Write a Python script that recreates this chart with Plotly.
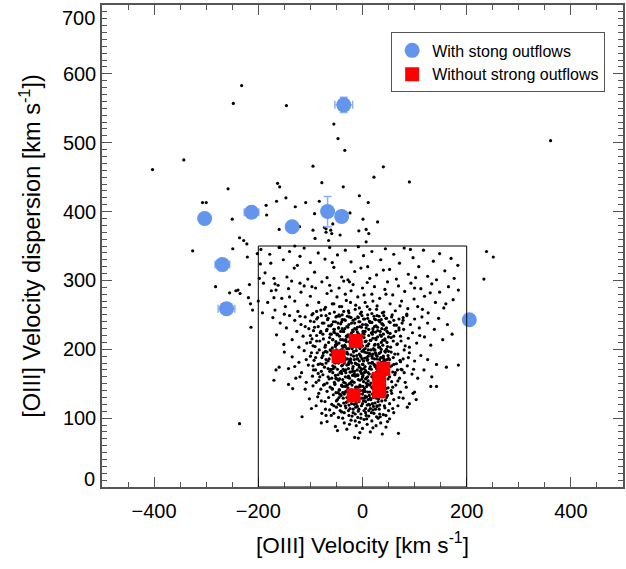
import plotly.graph_objects as go

# ---------------- data ----------------
# Parent sample (small black dots), read by eye: outside the box
outer_pts = [(-232,583),(-248,557),(-146,554),(-55,527),(-47,506),(-34,489),(-343,475),(-403,461),
             (-95,466),(22,450),(40,465),(90,443),(-163,441),(-159,436),(-78,442),(-37,436),(-258,433),
             (-6,423),(-147,420),(-165,415),(11,413),(-109,413),(-83,415),(-307,413),(-300,413),
             (-185,409),(-129,407),(-184,395),(-92,397),(-24,398),(29,385),(-250,389),(1,389),
             (-160,374),(-121,378),(-95,373),(-73,377),(-70,375),(-61,373),(-57,382),(-70,370),
             (-59,368),(-43,366),(-7,372),(7,374),(12,368),(-91,361),(-236,362),(-228,358),
             (-222,353),(-65,358),(7,356),(-326,343),(-249,346),(-130,350),(-159,348),(-202,339),
             (-221,334),(-217,294),(-282,291),(-255,282),(-243,285),(-239,286),(-235,281),
             (-219,275),(-215,266),(-211,257),(-214,232),(-236,92),(238,342),(251,334),(233,302),
             (361,503)]

band_a = [(-195,345),(-178,338),(-160,348),(-152,330),(-140,342),(-131,318),(-120,335),(-112,347),
          (-100,326),(-92,312),(-85,340),(-72,331),(-63,348),(-55,319),(-48,337),(-40,305),(-33,344),
          (-22,327),(-15,313),(-8,349),(2,336),(10,320),(18,342),(27,308),(35,330),(44,346),(52,316),
          (60,338),(71,325),(80,347),(88,309),(97,333),(108,320),(117,344),(125,306),(136,328),
          (148,339),(158,314),(170,332),(183,322),(-187,311),(-170,303),(-145,305),(-105,302),
          (-68,304),(-28,301),(14,303),(65,302),(102,304),(142,301),(176,303),(-125,322),(-3,318),
          (40,315),(92,345),(-58,326),(-176,325),(-196,324),(-168,295),(-166,286),(-192,253),
          (-198,303),(-200,270)]

band_b = [(-190,296),(-182,268),(-175,285),(-168,257),(-162,293),(-155,274),(-148,262),(-142,288),
          (-136,299),(-130,270),(-124,255),(-118,283),(-112,292),(-106,264),(-100,277),(-95,252),
          (-90,289),(-84,268),(-78,298),(-73,258),(-68,281),(-63,293),(-58,266),(-54,254),(-49,276),
          (-45,289),(-40,262),(-36,299),(-31,271),(-27,256),(-22,285),(-18,294),(-13,264),(-9,276),
          (-4,252),(0,289),(5,268),(9,297),(14,258),(18,280),(23,291),(28,263),(33,274),(38,253),
          (43,287),(48,298),(53,266),(58,279),(63,256),(69,292),(75,270),(81,284),(87,259),(93,296),
          (99,273),(106,262),(112,288),(119,277),(126,253),(133,295),(140,268),(148,283),(156,260),
          (165,291),(174,272),(184,286),(-150,251),(-120,296),(-88,255),(-60,285),(-33,280),(-6,260),
          (20,270),(45,280),(72,263),(100,289),(130,282),(160,266),(-170,275),(-25,298),(85,251),
          (-140,276),(3,279),(-97,291),(115,258)]

band_c = [(-172,246),(-165,221),(-158,238),(-151,207),(-146,231),(-140,249),(-135,214),(-130,242),
          (-126,226),(-122,203),(-118,236),(-114,219),(-110,247),(-107,209),(-103,230),(-100,241),
          (-97,215),(-94,227),(-91,204),(-88,244),(-85,233),(-82,212),(-79,249),(-76,222),(-74,238),
          (-71,206),(-68,229),(-66,245),(-63,217),(-61,234),(-58,202),(-56,240),(-53,224),(-51,211),
          (-49,248),(-46,231),(-44,219),(-42,237),(-39,205),(-37,226),(-35,243),(-32,214),(-30,233),
          (-28,221),(-25,247),(-23,208),(-21,238),(-19,228),(-16,216),(-14,244),(-12,203),(-10,232),
          (-7,222),(-5,240),(-3,211),(-1,249),(1,226),(3,217),(6,236),(8,205),(10,245),(12,229),
          (15,213),(17,239),(19,222),(22,248),(24,207),(26,234),(29,218),(31,242),(34,226),(36,210),
          (38,237),(41,249),(43,215),(46,231),(48,204),(51,240),(53,223),(56,247),(59,212),(61,235),
          (64,226),(67,208),(70,244),(73,219),(76,238),(79,229),(82,205),(85,249),(88,216),(92,236),
          (96,224),(100,244),(104,209),(109,231),(114,247),(119,218),(125,238),(131,206),(138,229),
          (146,245),(154,214),(163,236),(172,222),(-60,222),(-40,240),(-20,218),(0,236),(20,230),
          (40,222),(60,242),(-80,226),(-100,210),(-50,208),(-8,246),(33,203),(-70,249),(-30,201),
          (5,201),(45,245),(-88,220),(-15,230),(25,243),(70,231),(-120,248),(-2,219),(55,217),
          (-45,250),(14,240),(-65,234),(90,203),(-110,233),(110,220),(-35,213),(78,246),(-55,229),
          (37,230)]

band_d = [(-150,196),(-142,172),(-135,189),(-128,158),(-122,181),(-117,166),(-112,198),(-108,152),
          (-104,177),(-100,190),(-96,161),(-93,184),(-90,170),(-87,195),(-84,155),(-81,179),(-78,188),
          (-76,163),(-73,174),(-71,197),(-68,151),(-66,183),(-63,168),(-61,192),(-59,158),(-57,176),
          (-55,186),(-52,162),(-50,199),(-48,171),(-46,155),(-44,182),(-42,193),(-40,165),(-38,177),
          (-36,152),(-34,188),(-32,170),(-30,196),(-28,159),(-26,181),(-24,167),(-22,192),(-20,154),
          (-18,175),(-16,185),(-14,161),(-12,198),(-10,170),(-8,156),(-6,183),(-4,191),(-2,165),
          (0,178),(2,153),(4,187),(6,169),(8,195),(10,160),(12,180),(14,172),(16,151),(18,190),
          (20,164),(22,199),(24,177),(26,157),(28,186),(30,168),(32,194),(34,155),(36,181),(38,173),
          (40,190),(42,159),(44,184),(47,166),(50,197),(53,175),(56,153),(59,188),(62,163),(65,179),
          (68,193),(71,158),(74,171),(78,186),(82,152),(86,176),(90,195),(95,164),(100,183),
          (106,158),(112,191),(118,170),(125,185),(133,160),(142,178),(-130,175),(-70,185),(-47,189),
          (-33,160),(-17,196),(-3,172),(9,184),(21,156),(33,166),(46,176),(58,167),(-85,165),
          (-57,166),(-27,172),(-13,179),(1,162),(15,193),(29,176),(43,197),(-95,176),(-64,157),
          (-39,199),(-23,183),(-9,163),(5,175),(19,181),(35,188),(52,185),(67,170),(-75,195),
          (-52,180),(-37,171),(-5,155),(11,190),(27,167),(-108,185),(-82,160),(-44,157),(-29,186),
          (-15,168),(-1,197),(13,164),(25,195),(40,160),(60,178),(80,166),(-62,199),(-19,162),
          (7,158),(31,180),(-89,152),(-49,193),(-35,180),(-11,186),(3,166),(17,171),(37,154),
          (55,196),(73,182),(98,171),(-120,160),(-77,178),(-54,152),(-41,187),(-7,177),(23,186),
          (49,157),(88,188),(-25,150),(-66,172),(-170,155),(-166,170),(-160,174),(161,174),
          (184,177)]

band_e = [(-110,142),(-102,128),(-95,147),(-89,118),(-84,136),(-79,125),(-75,148),(-71,113),
          (-68,139),(-65,130),(-62,145),(-59,120),(-56,134),(-53,149),(-50,116),(-48,127),(-45,141),
          (-43,111),(-41,133),(-38,146),(-36,122),(-34,138),(-32,115),(-30,130),(-28,144),(-26,119),
          (-24,136),(-22,126),(-20,148),(-18,113),(-16,132),(-14,141),(-12,121),(-10,137),(-8,110),
          (-6,128),(-4,146),(-2,118),(0,135),(2,125),(4,143),(6,114),(8,131),(10,149),(12,120),
          (14,138),(16,127),(18,145),(20,112),(22,133),(24,122),(26,140),(28,117),(31,134),(34,147),
          (37,125),(40,139),(43,115),(46,130),(49,144),(52,121),(56,136),(60,127),(64,148),(68,118),
          (73,138),(78,129),(84,145),(90,121),(97,136),(-98,114),(-86,131),(-72,124),(-58,142),
          (-46,120),(-37,129),(-27,111),(-17,139),(-7,124),(3,111),(13,133),(23,147),(33,119),
          (44,126),(55,140),(-63,112),(-40,148),(-25,132),(-11,145),(-1,129),(9,119),(19,135),
          (29,143),(41,133),(58,114),(-80,142),(-51,137),(-31,123),(-13,116),(5,139),(15,114),
          (36,140),(50,111),(70,130),(-21,121),(-5,140),(11,127),(27,129),(-44,135),(-33,146),
          (1,146),(-15,125),(21,117),(-134,143),(-142,149),(142,146),(131,146),(100,138),(86,116),
          (103,127)]

band_f = [(-78,107),(-68,95),(-60,104),(-52,88),(-46,101),(-40,109),(-35,93),(-30,84),(-26,104),
          (-22,97),(-18,108),(-15,72),(-12,89),(-9,101),(-6,94),(-3,106),(0,85),(3,98),(6,108),
          (9,91),(12,103),(15,80),(18,96),(22,107),(26,89),(30,100),(35,93),(40,105),(45,87),
          (52,99),(60,108),(-55,107),(-25,91),(-5,79),(8,99),(20,86),(33,106),(-38,100),(-14,96),
          (27,102),(38,77),(-48,82),(48,95),(-70,104),(-8,71),(69,78),(-116,102),(-79,93)]

# dense core of the distribution
core_outer = [(-95,205),(-92,232),(-90,188),(-88,212),(-86,246),(-85,178),(-83,199),(-81,224),
          (-80,257),(-79,168),(-77,238),(-76,191),(-75,215),(-73,149),(-72,203),(-71,261),(-70,180),
          (-69,227),(-68,196),(-67,243),(-66,160),(-65,210),(-64,186),(-63,252),(-62,222),(-61,171),
          (-60,198),(-59,236),(-58,143),(-57,214),(-56,189),(-55,266),(-54,229),(-53,174),(-52,206),
          (-51,247),(-50,157),(-49,221),(-48,194),(-47,238),(-46,180),(-45,209),(-44,262),(-43,166),
          (-42,226),(-41,199),(-40,147),(-39,243),(-38,214),(-37,185),(-36,255),(-35,169),(-34,230),
          (-33,204),(-32,138),(-31,219),(-30,177),(-29,248),(-28,193),(-27,161),(-26,236),(-25,211),
          (-24,184),(-23,268),(-22,152),(-21,224),(-20,201),(-19,172),(-18,242),(-17,190),(-16,131),
          (-15,215),(-14,258),(-13,163),(-12,229),(-11,205),(-10,178),(-9,247),(-8,145),(-7,218),
          (-6,193),(-5,233),(-4,168),(-3,209),(-2,254),(-1,186),(0,140),(1,223),(2,199),(3,172),
          (4,244),(5,211),(6,157),(7,231),(8,188),(9,262),(10,205),(11,166),(12,220),(13,194),
          (14,148),(15,239),(16,213),(17,180),(18,252),(19,160),(20,226),(21,201),(22,136),(23,244),
          (24,175),(25,216),(26,192),(27,258),(28,152),(29,232),(30,207),(31,169),(32,248),(33,185),
          (34,221),(35,143),(36,200),(37,237),(38,162),(39,213),(40,182),(41,254),(42,150),(43,229),
          (44,196),(45,170),(46,245),(47,210),(48,133),(49,224),(50,187),(52,160),(53,239),(54,203),
          (56,176),(57,250),(58,145),(60,219),(62,193),(63,166),(65,235),(66,207),(68,154),(70,228),
          (72,184),(74,212),(76,170),(78,242),(80,199),(-100,220),(-98,195),(-97,250),(-94,170),
          (-93,240)]

core_inner = [(-58,196),(-56,172),(-55,225),(-53,150),(-52,240),(-50,183),(-49,207),(-47,163),
          (-46,231),(-44,141),(-43,190),(-42,214),(-40,176),(-39,250),(-38,156),(-37,203),(-36,226),
          (-35,135),(-34,184),(-33,242),(-32,166),(-31,211),(-30,194),(-29,148),(-28,232),(-27,178),
          (-26,201),(-25,158),(-24,221),(-23,186),(-22,246),(-21,141),(-20,209),(-19,168),(-18,226),
          (-17,197),(-16,152),(-15,238),(-14,180),(-13,213),(-12,134),(-11,191),(-10,225),(-9,162),
          (-8,205),(-7,240),(-6,174),(-5,148),(-4,219),(-3,189),(-2,232),(-1,157),(0,205),(1,178),
          (2,244),(3,139),(4,196),(5,226),(6,167),(7,212),(8,146),(9,235),(10,185),(11,154),(12,208),
          (13,241),(14,172),(15,129),(16,199),(17,224),(18,160),(19,187),(20,216),(21,142),(22,178),
          (23,233),(24,199),(25,163),(26,214),(27,138),(28,190),(29,227),(30,155),(31,203),(32,178),
          (33,240),(34,147),(35,196),(36,219),(37,169),(38,131),(39,206),(40,235),(41,186),(42,156),
          (43,213),(44,176),(45,143),(46,200),(47,226),(48,164),(49,191),(50,218),(-57,214),(-54,181),
          (-51,158),(-48,222),(-45,197),(-41,168),(-37,186),(-33,151),(-29,218),(-25,136),(-21,180),
          (-17,212),(-13,145),(-9,186),(-5,201),(-1,171),(3,222),(7,151),(11,199),(15,175),(19,144),
          (23,206),(27,172),(31,128),(35,171),(39,188),(43,162),(47,185),(-44,248),(-26,253),(-8,221),
          (10,250),(28,249),(-52,204),(-34,206),(-16,164),(2,183),(20,193),(38,150),(-60,170),
          (-39,230),(-19,134),(0,160),(18,239),(36,243),(-47,137),(-23,167),(5,132),(25,225)]

core_low = [(-50,125),(-42,118),(-35,108),(-30,140),(-24,114),(-19,128),(-14,106),(-10,117),
          (-6,135),(-3,100),(0,121),(4,129),(7,104),(10,138),(14,119),(17,108),(21,130),(25,113),
          (30,124),(34,102),(38,132),(42,118),(47,138),(-45,130),(-38,137),(-28,125),(-16,120),
          (-7,113),(2,139),(12,111),(24,136),(32,113),(-55,118),(-20,103),(6,124),(19,121),(45,104),
          (-33,118),(-11,130),(28,118)]

# Galaxies with strong outflows (blue) and without (red)
out_x = [-36, -303, -213, -135, -67, -40, -269, -261, 205]
out_y = [555, 390, 399, 378, 400, 393, 323, 259, 243]
out_ex = [17, 8, 14, 8, 8, 8, 14, 16, 8]
out_ey = [11, 8, 8, 6, 22, 6, 6, 6, 6]

no_x = [-13, -46, 40, 32, 32, -17]
no_y = [212, 190, 172, 157, 139, 133]

# box limits
box_x = [-200, 200]
box_y = [0, 350]

x_ticks = [-400, -200, 0, 200, 400]
y_ticks = [0, 100, 200, 300, 400, 500, 600, 700]

# ---------------- figure ----------------
field = (outer_pts + band_a + band_b + band_c + band_d + band_e + band_f
         + core_outer + core_inner + core_low)
fx = [p[0] for p in field]
fy = [p[1] for p in field]

FONT = "Liberation Sans, Arial, sans-serif"
TICKF = dict(size=20, color="black", family=FONT)
fig = go.Figure()
fig.add_trace(go.Scatter(x=fx, y=fy, mode="markers", showlegend=False,
                         marker=dict(size=3.2, color="black"), hoverinfo="skip"))
fig.add_trace(go.Scatter(x=out_x, y=out_y, mode="markers", name="With stong outflows",
                         marker=dict(size=15, color="#6495ED", symbol="circle"),
                         error_x=dict(type="data", array=out_ex, color="#8FB0F0", thickness=1.5, width=4),
                         error_y=dict(type="data", array=out_ey, color="#8FB0F0", thickness=1.5, width=4)))
fig.add_trace(go.Scatter(x=no_x, y=no_y, mode="markers", name="Without strong outflows",
                         marker=dict(size=14, color="#FF0000", symbol="square")))

fig.add_shape(type="rect", x0=box_x[0], x1=box_x[1], y0=box_y[0], y1=box_y[1],
              line=dict(color="black", width=1))

axis_common = dict(showline=True, linecolor="#555", linewidth=1.5, mirror="ticks",
                   ticks="inside", tickcolor="#555", tickwidth=1.2, showgrid=False,
                   zeroline=False, tickfont=TICKF)
fig.update_xaxes(range=[-500, 500], tickvals=x_ticks, ticklen=10,
                 minor=dict(dtick=50, ticks="inside", ticklen=5, tickcolor="#555"),
                 title=dict(text="[OIII] Velocity [km s<sup>-1</sup>]", standoff=16,
                            font=dict(size=22.5, color="black", family=FONT)),
                 ticklabelstandoff=5, **axis_common)
fig.update_yaxes(range=[0, 700], tickvals=y_ticks,
                 ticktext=["" if v in (0, 700) else str(v) for v in y_ticks], ticklen=10,
                 minor=dict(dtick=10, ticks="inside", ticklen=5, tickcolor="#555"),
                 title=dict(text="[OIII] Velocity dispersion [km s<sup>-1</sup>])", standoff=16,
                            font=dict(size=23.5, color="black", family=FONT)),
                 **axis_common)

fig.add_annotation(x=0, xref="paper", y=0, yref="y", text="0", showarrow=False,
                   xanchor="right", yanchor="middle", xshift=-5, yshift=8, font=TICKF)
fig.add_annotation(x=0, xref="paper", y=700, yref="y", text="700", showarrow=False,
                   xanchor="right", yanchor="middle", xshift=-5, yshift=-13, font=TICKF)

fig.update_layout(width=626, height=569, margin=dict(l=102, r=1, t=5, b=82),
                  plot_bgcolor="white", paper_bgcolor="white",
                  font=dict(family=FONT, color="black"),
                  legend=dict(x=0.555, y=0.943, xanchor="left", yanchor="top",
                              bgcolor="white", bordercolor="#555", borderwidth=1,
                              font=dict(size=16, color="black", family=FONT),
                              itemwidth=30, tracegroupgap=0))

fig.write_html("out.html")
